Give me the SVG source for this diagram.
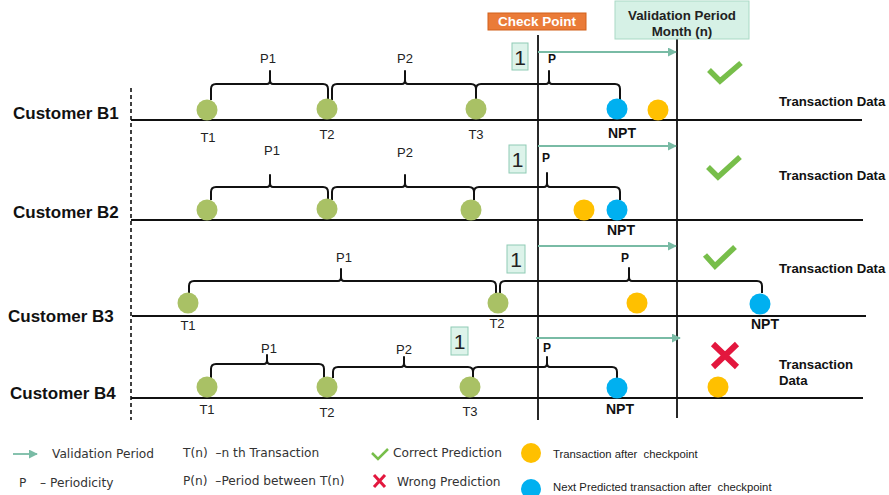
<svg xmlns="http://www.w3.org/2000/svg" width="889" height="495" viewBox="0 0 889 495">
<style>
.cust{font-family:"Liberation Sans",Arial,sans-serif;font-weight:bold;font-size:17px;fill:#111}
.tl{font-family:"Liberation Sans",Arial,sans-serif;font-size:13px;fill:#222;text-anchor:middle}
.pb{font-family:"Liberation Sans",Arial,sans-serif;font-size:12px;font-weight:bold;fill:#111;text-anchor:middle}
.npt{font-family:"Liberation Sans",Arial,sans-serif;font-size:14px;font-weight:bold;fill:#111;text-anchor:middle}
.td{font-family:"Liberation Sans",Arial,sans-serif;font-size:13.2px;font-weight:bold;fill:#111}
.one{fill:#DDF3EA;stroke:#8FCBB5;stroke-width:1}
.onet{font-family:"Liberation Sans",Arial,sans-serif;font-size:21px;fill:#222;text-anchor:middle}
.axis{stroke:#111;stroke-width:2;fill:none}
.vl{stroke:#111;stroke-width:1.8;fill:none}
.brace{stroke:#111;stroke-width:2;fill:none;stroke-linejoin:round}
.g{fill:#A9C165}
.b{fill:#00B0F0}
.o{fill:#FFC000}
.chk{stroke:#77BE4A;stroke-width:5.5;fill:none;stroke-linecap:butt;stroke-linejoin:miter}
.x{stroke:#E3173E;stroke-width:6;fill:none}
.arr{stroke:#79BBA5;stroke-width:1.8;fill:none;marker-end:url(#ah)}
.leg{font-family:"DejaVu Sans",Verdana,sans-serif;font-size:12.2px;fill:#333}
.leg2{font-family:"Liberation Sans",Arial,sans-serif;font-size:11.3px;fill:#222}
</style>
<defs>
<marker id="ah" viewBox="0 0 10 10" refX="9" refY="5" markerWidth="5" markerHeight="5" orient="auto" markerUnits="strokeWidth">
<path d="M0,0 L10,5 L0,10 z" fill="#79BBA5"/>
</marker>
</defs>
<rect width="889" height="495" fill="#fff"/>

<!-- frame lines -->
<line x1="131" y1="88" x2="131" y2="420" stroke="#111" stroke-width="1.6" stroke-dasharray="4,3"/>
<line class="vl" x1="538" y1="35" x2="538" y2="420"/>
<line class="vl" x1="677" y1="38" x2="677" y2="418"/>

<g id="checkpoint">
<rect x="488" y="13" width="98" height="17" fill="#EA7B38" stroke="#D2601A" stroke-width="1"/>
<text x="537" y="26" font-family="Liberation Sans,Arial,sans-serif" font-weight="bold" font-size="13.5" fill="#fff" text-anchor="middle">Check Point</text>
</g>
<g id="validation-period">
<rect x="615" y="1" width="134" height="38" fill="#D6F1E6" stroke="#A9D9C5" stroke-width="1"/>
<text x="682" y="20" font-family="Liberation Sans,Arial,sans-serif" font-weight="bold" font-size="13.3" fill="#222" text-anchor="middle">Validation Period</text>
<text x="682" y="36" font-family="Liberation Sans,Arial,sans-serif" font-weight="bold" font-size="13.3" fill="#222" text-anchor="middle">Month (n)</text>
</g>

<g id="customer-b1">
<text class="cust" x="13" y="119">Customer B1</text>
<line class="axis" x1="131" y1="120" x2="862" y2="120"/>
<path class="brace" d="M211,100 V89 Q211,84 216,84 H267 Q270,84 270,80 V71 V80 Q270,84 273,84 H323 Q328,84 328,89 V100"/>
<path class="brace" d="M332,100 V89 Q332,84 337,84 H402 Q405,84 405,80 V71 V80 Q405,84 408,84 H471 Q476,84 476,89 V100"/>
<path class="brace" d="M476,100 V89 Q476,84 481,84 H546 Q549,84 549,80 V71 V80 Q549,84 552,84 H615 Q620,84 620,89 V100"/>
<circle class="g" cx="207" cy="110" r="10.5"/>
<circle class="g" cx="327" cy="109" r="10.5"/>
<circle class="g" cx="476" cy="109" r="10.5"/>
<circle class="b" cx="617" cy="109" r="10.5"/>
<circle class="o" cx="658" cy="110" r="10.5"/>
<text class="tl" x="208" y="142">T1</text>
<text class="tl" x="327" y="139">T2</text>
<text class="tl" x="476" y="139">T3</text>
<text class="npt" x="622" y="138">NPT</text>
<text class="tl" x="268" y="63">P1</text>
<text class="tl" x="405" y="63">P2</text>
<text class="pb" x="552" y="63">P</text>
<rect class="one" x="512" y="43" width="16" height="27"/>
<text class="onet" x="520" y="65">1</text>
<polyline class="chk" points="709,70 720,81 741,63"/>
<text class="td" x="779" y="106">Transaction Data</text>
</g>

<g id="customer-b2">
<text class="cust" x="13" y="218">Customer B2</text>
<line class="axis" x1="131" y1="220" x2="863" y2="220"/>
<path class="brace" d="M211,200 V192 Q211,187 216,187 H267 Q270,187 270,183 V175 V183 Q270,187 273,187 H323 Q328,187 328,192 V200"/>
<path class="brace" d="M332,200 V192 Q332,187 337,187 H402 Q405,187 405,183 V175 V183 Q405,187 408,187 H469 Q474,187 474,192 V200"/>
<path class="brace" d="M474,200 V192 Q474,187 479,187 H544 Q547,187 547,183 V173 V183 Q547,187 550,187 H615 Q620,187 620,192 V200"/>
<circle class="g" cx="207" cy="210" r="10.5"/>
<circle class="g" cx="327" cy="209" r="10.5"/>
<circle class="g" cx="471" cy="210" r="10.5"/>
<circle class="o" cx="584" cy="210" r="10.5"/>
<circle class="b" cx="617" cy="210" r="10.5"/>
<text class="npt" x="621" y="235">NPT</text>
<text class="tl" x="272" y="155">P1</text>
<text class="tl" x="405" y="157">P2</text>
<text class="pb" x="546" y="162">P</text>
<rect class="one" x="509" y="145" width="17" height="28"/>
<text class="onet" x="517.5" y="167">1</text>
<polyline class="chk" points="708,167 718,177 740,157"/>
<text class="td" x="779" y="180">Transaction Data</text>
</g>

<g id="customer-b3">
<text class="cust" x="8" y="322">Customer B3</text>
<line class="axis" x1="132" y1="316" x2="866" y2="316"/>
<path class="brace" d="M189,293 V286 Q189,281 194,281 H338 Q341,281 341,277 V269 V277 Q341,281 344,281 H491 Q496,281 496,286 V293"/>
<path class="brace" d="M500,293 V286 Q500,281 505,281 H626 Q629,281 629,277 V268 V277 Q629,281 632,281 H757 Q762,281 762,286 V293"/>
<circle class="g" cx="188" cy="303" r="10.5"/>
<circle class="g" cx="498" cy="303" r="10.5"/>
<circle class="o" cx="637" cy="303" r="10.5"/>
<circle class="b" cx="760" cy="304" r="10.5"/>
<text class="tl" x="188" y="330">T1</text>
<text class="tl" x="497" y="328">T2</text>
<text class="npt" x="765" y="329">NPT</text>
<text class="tl" x="344" y="262">P1</text>
<text class="pb" x="625" y="262">P</text>
<rect class="one" x="507" y="245" width="18" height="28"/>
<text class="onet" x="516" y="267">1</text>
<polyline class="chk" points="705,255 715,266 735,247"/>
<text class="td" x="779" y="273">Transaction Data</text>
</g>

<g id="customer-b4">
<text class="cust" x="10" y="399">Customer B4</text>
<line class="axis" x1="131" y1="398" x2="863" y2="398"/>
<path class="brace" d="M211,378 V369 Q211,364 216,364 H264 Q267,364 267,360 V355 V360 Q267,364 270,364 H319 Q324,364 324,369 V378"/>
<path class="brace" d="M333,378 V372 Q333,367 338,367 H401 Q404,367 404,363 V357 V363 Q404,367 407,367 H468 Q473,367 473,372 V378"/>
<path class="brace" d="M473,378 V372 Q473,367 478,367 H544 Q547,367 547,363 V357 V363 Q547,367 550,367 H612 Q617,367 617,372 V378"/>
<circle class="g" cx="207" cy="387" r="10.5"/>
<circle class="g" cx="327" cy="387" r="10.5"/>
<circle class="g" cx="470" cy="387" r="10.5"/>
<circle class="b" cx="617" cy="388" r="10.5"/>
<circle class="o" cx="718" cy="387" r="10.5"/>
<text class="tl" x="207" y="414">T1</text>
<text class="tl" x="327" y="417">T2</text>
<text class="tl" x="470" y="416">T3</text>
<text class="npt" x="620" y="414">NPT</text>
<text class="tl" x="269" y="353">P1</text>
<text class="tl" x="404" y="354">P2</text>
<text class="pb" x="547" y="352">P</text>
<rect class="one" x="451" y="327" width="17" height="28"/>
<text class="onet" x="459.5" y="349">1</text>
<path class="x" d="M713,344 L737,367 M737,344 L713,367"/>
<text class="td" x="779" y="369">Transaction</text>
<text class="td" x="779" y="385">Data</text>
</g>

<g id="connectors">
<line class="arr" x1="538" y1="52" x2="676" y2="52"/>
<line class="arr" x1="538" y1="146" x2="676" y2="146"/>
<line class="arr" x1="538" y1="246" x2="676" y2="246"/>
<line class="arr" x1="536" y1="338" x2="680" y2="338"/>
</g>

<g id="legend">
<line class="arr" x1="13" y1="454" x2="37" y2="454"/>
<text class="leg" x="52" y="458">Validation Period</text>
<text class="leg" x="19" y="487">P</text>
<text class="leg" x="40" y="487">– Periodicity</text>
<text class="leg" x="183" y="457" xml:space="preserve">T(n)  –n th Transaction</text>
<text class="leg" x="183" y="485" xml:space="preserve">P(n)  –Period between T(n)</text>
<polyline points="372,453 378,459 388,449" stroke="#77BE4A" stroke-width="2.5" fill="none"/>
<text class="leg" x="393" y="457">Correct Prediction</text>
<path d="M374,475 L385,487 M385,475 L374,487" stroke="#E3173E" stroke-width="3" fill="none"/>
<text class="leg" x="397" y="486">Wrong Prediction</text>
<circle class="o" cx="531" cy="453" r="10"/>
<text class="leg2" x="553" y="458" xml:space="preserve">Transaction after  checkpoint</text>
<circle class="b" cx="531" cy="489" r="10"/>
<text class="leg2" x="553" y="491" xml:space="preserve">Next Predicted transaction after  checkpoint</text>
</g>
</svg>
